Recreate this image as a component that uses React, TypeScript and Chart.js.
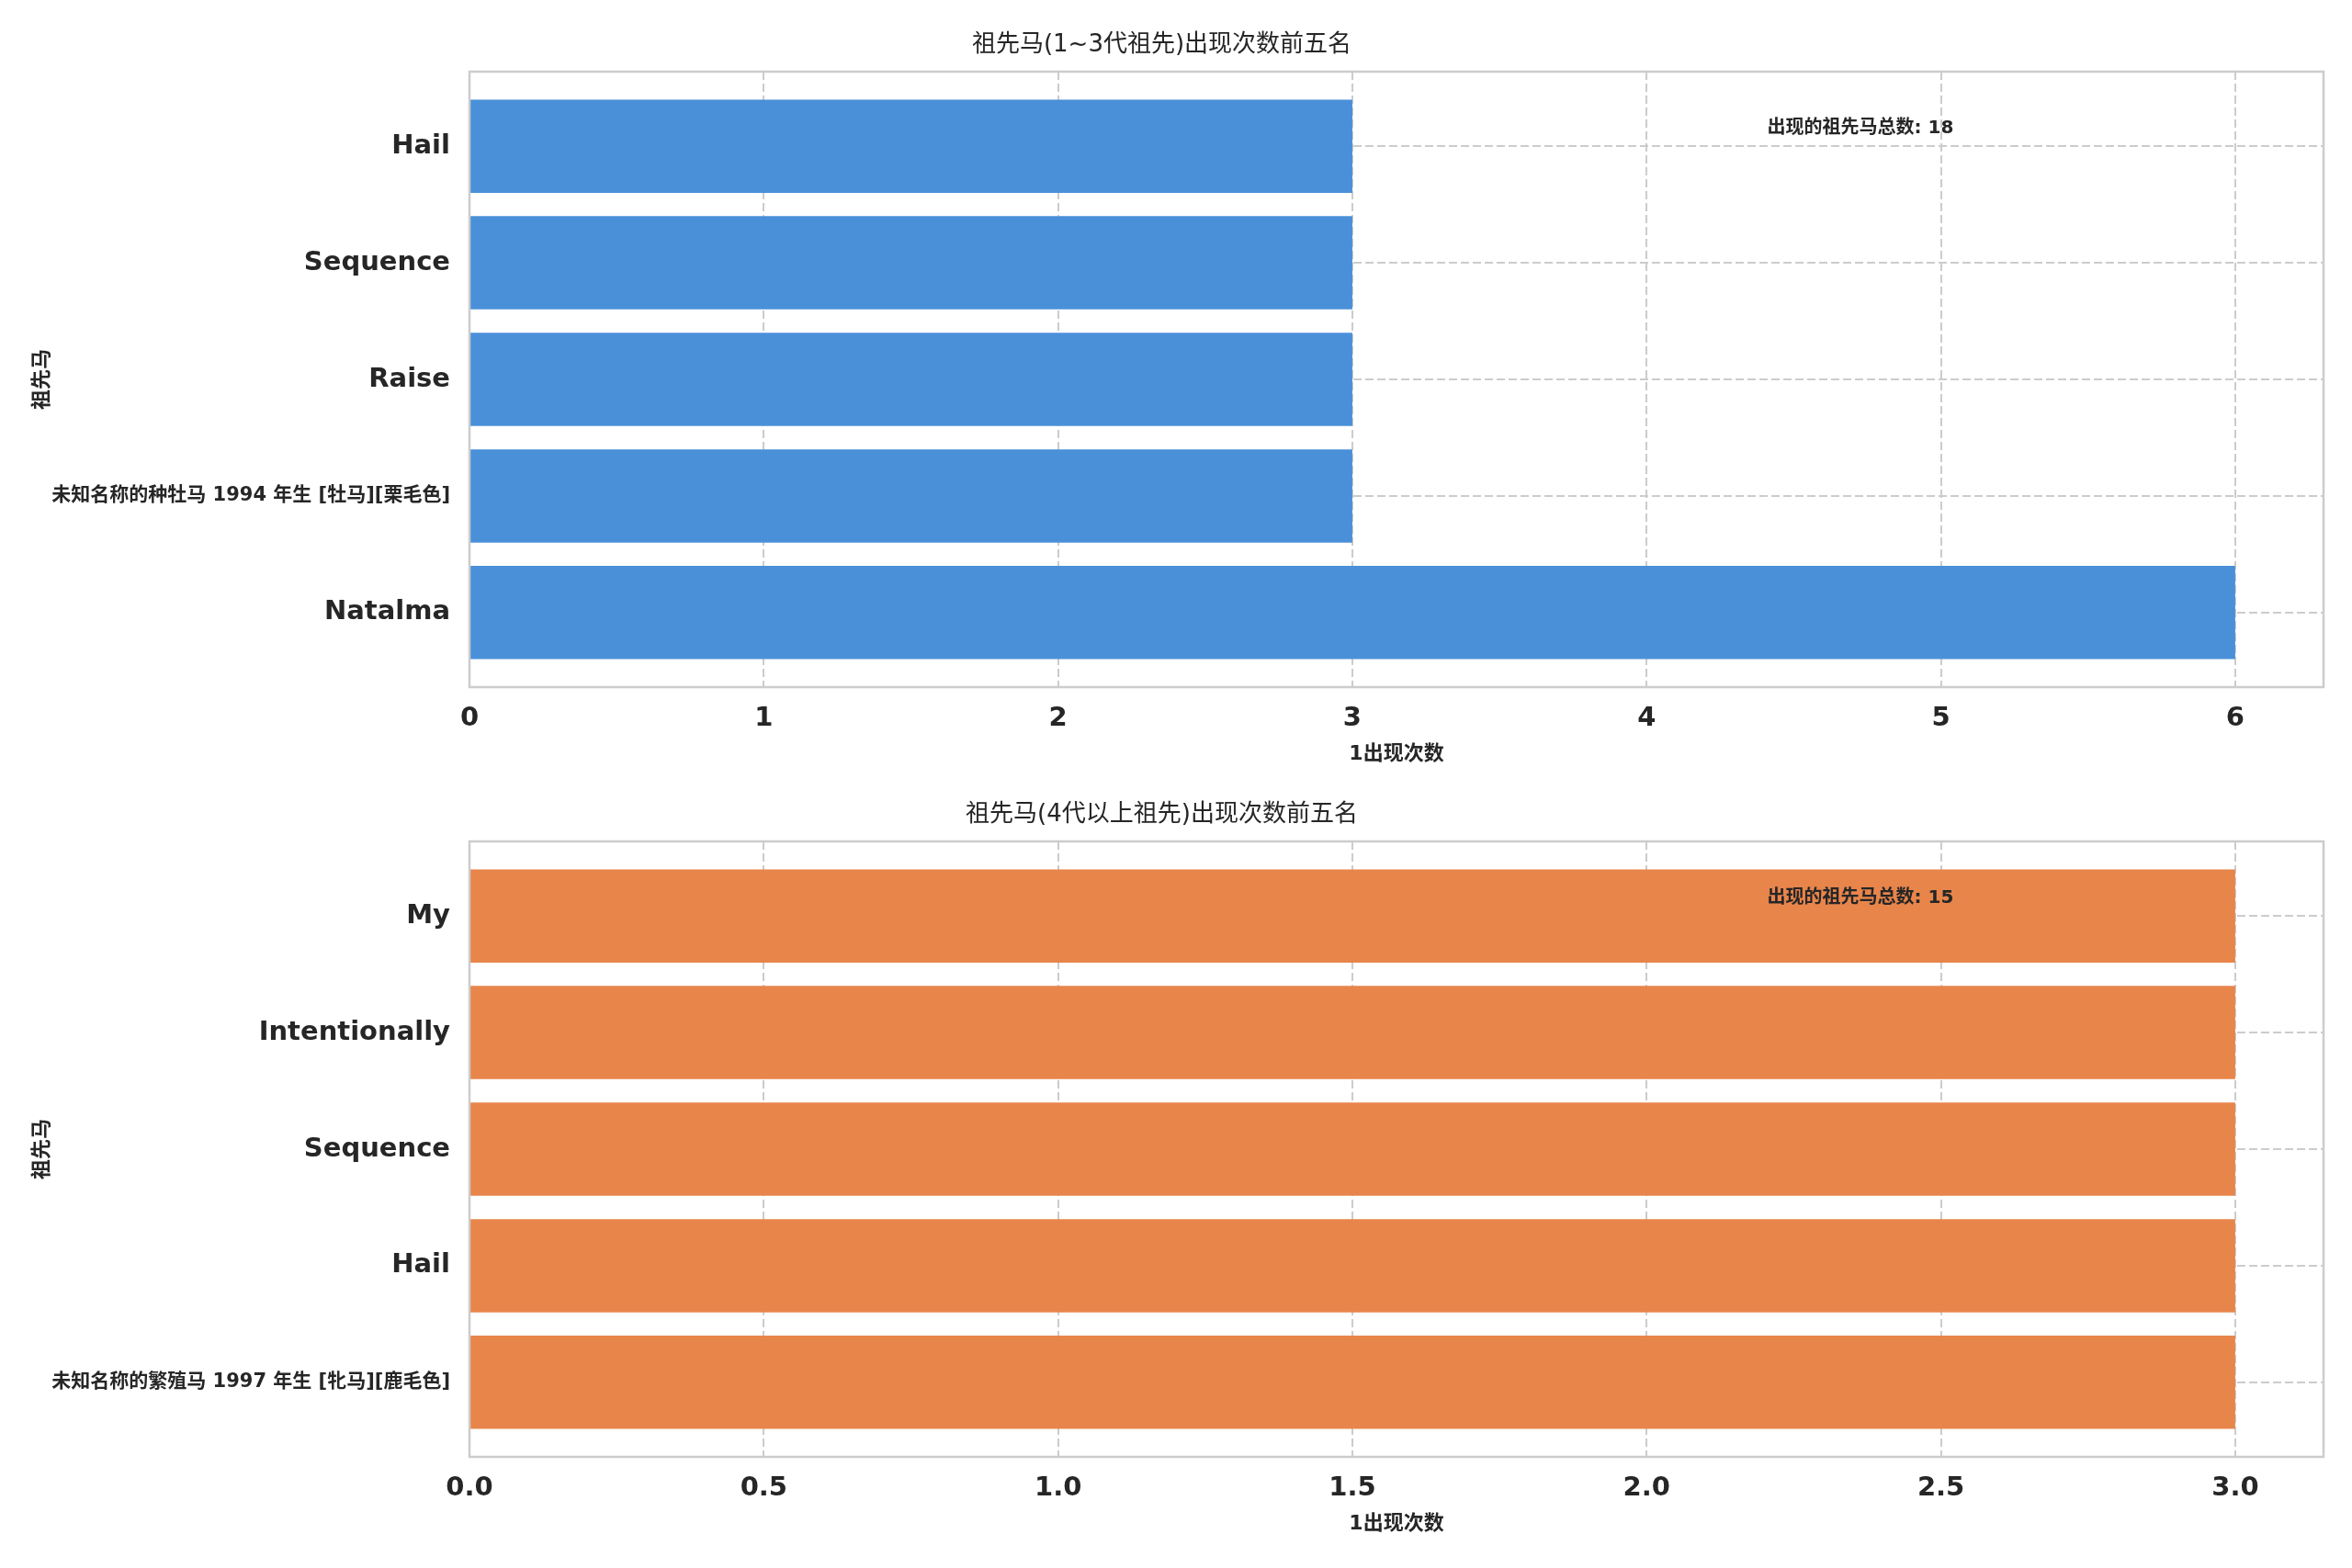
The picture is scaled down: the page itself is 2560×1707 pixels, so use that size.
import { useEffect, useRef } from 'react'
import Chart from 'chart.js/auto'

// ancestors seen 1~3 generations back
const topLabels = ['Hail', 'Sequence', 'Raise', '未知名称的种牡马 1994 年生 [牡马][栗毛色]', 'Natalma']
const topCounts = [3, 3, 3, 3, 6]
const topXTicks = [0, 1, 2, 3, 4, 5, 6]
const topXMax = 6.3
const topTotal = 18

// ancestors seen 4+ generations back
const bottomLabels = ['My', 'Intentionally', 'Sequence', 'Hail', '未知名称的繁殖马 1997 年生 [牝马][鹿毛色]']
const bottomCounts = [3, 3, 3, 3, 3]
const bottomXTicks = [0, 0.5, 1, 1.5, 2, 2.5, 3]
const bottomXMax = 3.15
const bottomTotal = 15

const TEXT = '#262626'
const GRID = '#cccccc'
const FONT = '"DejaVu Sans", "Noto Sans CJK SC", sans-serif'

const hasCjk = (s: string) => /[\u3000-\u9fff]/.test(s)

const boxPlugin = {
    id: 'axesBox',
    afterDatasetsDraw(chart: any) {
        const { ctx, chartArea: a } = chart
        ctx.save()
        ctx.strokeStyle = GRID
        ctx.lineWidth = 2.5
        ctx.strokeRect(a.left, a.top, a.right - a.left, a.bottom - a.top)
        ctx.restore()
    }
}

const notePlugin = {
    id: 'note',
    afterDraw(chart: any, _args: any, opts: any) {
        const { ctx, chartArea: a } = chart
        ctx.save()
        ctx.font = `bold 20px ${FONT}`
        ctx.fillStyle = TEXT
        ctx.textAlign = 'left'
        ctx.textBaseline = 'alphabetic'
        ctx.fillText(opts.text, a.left + 0.7 * (a.right - a.left), a.top + 0.1 * (a.bottom - a.top))
        ctx.restore()
    }
}

type PanelProps = {
    title: string
    labels: string[]
    counts: number[]
    color: string
    xTicks: number[]
    xMax: number
    digits: number
    total: number
}

const BarPanel = ({ title, labels, counts, color, xTicks, xMax, digits, total }: PanelProps) => {
    const chartRef = useRef<HTMLCanvasElement>(null)

    useEffect(() => {
        if (!chartRef.current) return
        const lim = (labels.length - 1 + 0.8) * 0.05 + 0.4

        const chart = new Chart(chartRef.current, {
            type: 'bar',
            data: {
                datasets: [
                    {
                        data: counts.map((v, i) => ({ x: v, y: i })),
                        backgroundColor: color,
                        borderWidth: 0,
                        categoryPercentage: 1,
                        barPercentage: 0.8
                    }
                ]
            },
            plugins: [boxPlugin, notePlugin],
            options: {
                indexAxis: 'y',
                animation: false,
                responsive: true,
                maintainAspectRatio: false,
                layout: { padding: { left: 0, right: 31, top: 0, bottom: 0 } },
                scales: {
                    x: {
                        type: 'linear',
                        min: 0,
                        max: xMax,
                        afterBuildTicks: (s: any) => { s.ticks = xTicks.map(v => ({ value: v })) },
                        afterFit: (s: any) => { s.height = 90 },
                        grid: { color: GRID, lineWidth: 2, drawTicks: false },
                        border: { display: false, dash: [9, 4] },
                        ticks: {
                            color: TEXT,
                            padding: 17,
                            font: { family: FONT, size: 29, weight: 'bold' },
                            callback: (v: any) => Number(v).toFixed(digits)
                        },
                        title: {
                            display: true,
                            text: '1出现次数',
                            color: TEXT,
                            font: { family: FONT, size: 22, weight: 'bold' },
                            padding: { top: 0, bottom: 4 }
                        }
                    },
                    y: {
                        type: 'linear',
                        reverse: true,
                        offset: false,
                        min: -lim,
                        max: labels.length - 1 + lim,
                        afterBuildTicks: (s: any) => { s.ticks = labels.map((_, i) => ({ value: i })) },
                        afterFit: (s: any) => { s.width = 511 },
                        grid: { color: GRID, lineWidth: 2, drawTicks: false, offset: false },
                        border: { display: false, dash: [9, 4] },
                        ticks: {
                            color: TEXT,
                            padding: 21,
                            font: (c: any) => ({
                                family: FONT,
                                weight: 'bold',
                                size: hasCjk(labels[c.tick?.value ?? c.index] || '') ? 21 : 29
                            }),
                            callback: (v: any) => labels[Number(v)]
                        },
                        title: {
                            display: true,
                            text: '祖先马',
                            color: TEXT,
                            font: { family: FONT, size: 22, weight: 'bold' },
                            padding: { top: 33, bottom: 0 }
                        }
                    }
                },
                plugins: {
                    legend: { display: false },
                    tooltip: { enabled: false },
                    title: {
                        display: true,
                        text: title,
                        color: TEXT,
                        font: { family: FONT, size: 26, weight: 'normal' },
                        padding: { top: 33.4, bottom: 13.4 }
                    },
                    note: { text: `出现的祖先马总数: ${total}` }
                } as any
            }
        } as any)

        return () => {
            chart.destroy()
        }
    }, [])

    return (
        <div style={{ position: 'relative', width: 2560, height: 838 }}>
            <canvas ref={chartRef} />
        </div>
    )
}

const App = () => {
    return (
        <div style={{ position: 'absolute', left: 0, top: 0, width: 2560, height: 1707, background: '#fff' }}>
            <BarPanel
                title="祖先马(1~3代祖先)出现次数前五名"
                labels={topLabels}
                counts={topCounts}
                color="#4a90d9"
                xTicks={topXTicks}
                xMax={topXMax}
                digits={0}
                total={topTotal}
            />
            <BarPanel
                title="祖先马(4代以上祖先)出现次数前五名"
                labels={bottomLabels}
                counts={bottomCounts}
                color="#e8854b"
                xTicks={bottomXTicks}
                xMax={bottomXMax}
                digits={1}
                total={bottomTotal}
            />
        </div>
    )
}

export default App
